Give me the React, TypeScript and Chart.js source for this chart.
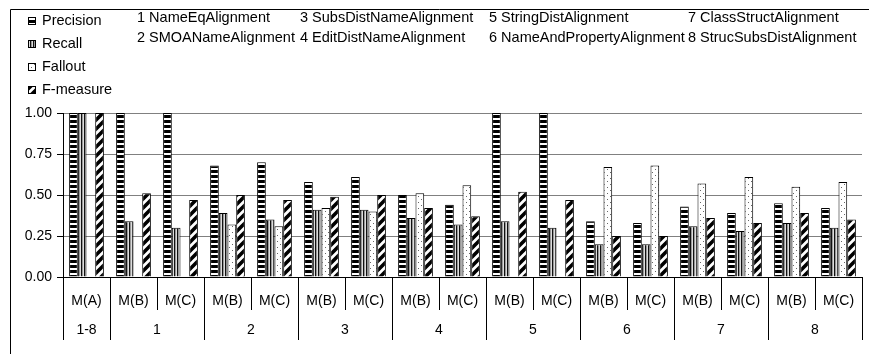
import React, { useEffect, useRef } from "react";
import Chart from "chart.js/auto";

const categories = ["M(A)", "M(B)", "M(C)", "M(B)", "M(C)", "M(B)", "M(C)", "M(B)", "M(C)", "M(B)", "M(C)", "M(B)", "M(C)", "M(B)", "M(C)", "M(B)", "M(C)"];
const groupLabels = ["1-8", "1", "2", "3", "4", "5", "6", "7", "8"];
const groupSpans = [1, 2, 2, 2, 2, 2, 2, 2, 2];
const seriesNames = ["Precision", "Recall", "Fallout", "F-measure"];
const precision = [1.0, 1.0, 1.0, 0.68, 0.70, 0.58, 0.61, 0.50, 0.44, 1.0, 1.0, 0.34, 0.33, 0.43, 0.39, 0.45, 0.42];
const recall = [1.0, 0.34, 0.30, 0.39, 0.35, 0.41, 0.41, 0.36, 0.32, 0.34, 0.30, 0.20, 0.20, 0.31, 0.28, 0.33, 0.30];
const fallout = [0, 0, 0, 0.32, 0.31, 0.42, 0.40, 0.51, 0.56, 0, 0, 0.67, 0.68, 0.57, 0.61, 0.55, 0.58];
const fmeasure = [1.0, 0.51, 0.47, 0.50, 0.47, 0.49, 0.50, 0.42, 0.37, 0.52, 0.47, 0.25, 0.25, 0.36, 0.33, 0.39, 0.35];
const methodNames = ["NameEqAlignment", "SMOANameAlignment", "SubsDistNameAlignment", "EditDistNameAlignment", "StringDistAlignment", "NameAndPropertyAlignment", "ClassStructAlignment", "StrucSubsDistAlignment"];
const yTicks = [0, 0.25, 0.5, 0.75, 1.0];

const FONT = '"Liberation Sans", Arial, sans-serif';

function makePattern(kind: string): CanvasPattern | string {
  const c = document.createElement("canvas");
  const g = c.getContext("2d")!;
  if (kind === "h") {
    c.width = 4; c.height = 5;
    g.fillStyle = "#fff"; g.fillRect(0, 0, 4, 5);
    g.fillStyle = "#000"; g.fillRect(0, 0, 4, 3);
  } else if (kind === "v") {
    c.width = 3; c.height = 3;
    g.fillStyle = "#999"; g.fillRect(0, 0, 3, 3);
    g.fillStyle = "#111"; g.fillRect(0, 0, 1, 3);
    g.fillStyle = "#ddd"; g.fillRect(2, 0, 1, 3);
  } else if (kind === "d") {
    c.width = 6; c.height = 6;
    g.fillStyle = "#fff"; g.fillRect(0, 0, 6, 6);
    g.fillStyle = "#666";
    g.fillRect(1, 1, 1, 1);
    g.fillRect(4, 4, 1, 1);
  } else {
    const s = 9;
    c.width = s; c.height = s;
    g.fillStyle = "#fff"; g.fillRect(0, 0, s, s);
    g.strokeStyle = "#000"; g.lineWidth = 3.6;
    g.beginPath();
    g.moveTo(-s, 2 * s); g.lineTo(2 * s, -s);
    g.moveTo(-2 * s, 2 * s); g.lineTo(s, -s);
    g.moveTo(0, 2 * s); g.lineTo(3 * s, -s);
    g.stroke();
  }
  return g.createPattern(c, "repeat") || "#888";
}

const methodColX = [137, 300, 489, 688];

const decorPlugin = {
  id: "decor",
  afterDraw(chart: any) {
    const { ctx, chartArea, scales } = chart;
    const xs = scales.x;
    const n = categories.length;
    const w = (chartArea.right - chartArea.left) / n;
    const bottom = chartArea.bottom;
    ctx.save();
    ctx.strokeStyle = "#000";
    ctx.lineWidth = 1;
    ctx.beginPath();
    ctx.moveTo(10.5, 354); ctx.lineTo(10.5, 9.5); ctx.lineTo(869, 9.5);
    ctx.stroke();
    ctx.beginPath();
    ctx.moveTo(chartArea.left, bottom + 0.5); ctx.lineTo(chartArea.right, bottom + 0.5);
    ctx.stroke();
    ctx.font = "14px " + FONT;
    ctx.fillStyle = "#000";
    ctx.textAlign = "center";
    ctx.textBaseline = "middle";
    for (let i = 0; i < n; i++) {
      const cx = xs.getPixelForValue(i);
      ctx.fillText(categories[i], cx, bottom + 24);
      const bx = Math.round(cx + w / 2) + 0.5;
      ctx.beginPath(); ctx.moveTo(bx, bottom); ctx.lineTo(bx, bottom + 33); ctx.stroke();
    }
    let start = 0;
    const lx = Math.round(chartArea.left) + 0.5;
    ctx.beginPath(); ctx.moveTo(lx, bottom); ctx.lineTo(lx, bottom + 63); ctx.stroke();
    for (let gi = 0; gi < groupLabels.length; gi++) {
      const span = groupSpans[gi];
      const first = xs.getPixelForValue(start) - w / 2;
      const last = xs.getPixelForValue(start + span - 1) + w / 2;
      ctx.fillText(groupLabels[gi], (first + last) / 2, bottom + 53);
      const bx = Math.round(last) + 0.5;
      ctx.beginPath(); ctx.moveTo(bx, bottom); ctx.lineTo(bx, bottom + 63); ctx.stroke();
      start += span;
    }
    ctx.font = "14.5px " + FONT;
    ctx.textAlign = "left";
    const rowsY = [21, 44, 67, 90];
    chart.data.datasets.forEach((ds: any, i: number) => {
      const y = rowsY[i];
      ctx.fillStyle = ds.backgroundColor;
      ctx.fillRect(28, y - 4, 8, 8);
      ctx.strokeStyle = "#000";
      ctx.strokeRect(28.5, y - 3.5, 7, 7);
      ctx.fillStyle = "#000";
      ctx.fillText(ds.label, 42, y);
    });
    methodNames.forEach((m, i) => {
      const col = Math.floor(i / 2);
      const row = i % 2;
      ctx.fillText((i + 1) + " " + m, methodColX[col], row === 0 ? 18 : 38);
    });
    ctx.restore();
  },
};

export default function App() {
  const ref = useRef<HTMLCanvasElement>(null);
  useEffect(() => {
    document.body.style.margin = "0";
    const patterns = [makePattern("h"), makePattern("v"), makePattern("d"), makePattern("s")];
    const values = [precision, recall, fallout, fmeasure];
    const chart = new Chart(ref.current!, {
      type: "bar",
      data: {
        labels: categories,
        datasets: seriesNames.map((name, i) => ({
          label: name,
          data: values[i],
          backgroundColor: patterns[i] as any,
          borderColor: "#000",
          borderWidth: 1,
          categoryPercentage: 0.74,
          barPercentage: 1.0,
        })),
      },
      options: {
        responsive: false,
        animation: false,
        layout: { padding: { left: 0, top: 113, right: 7, bottom: 77 } },
        plugins: { legend: { display: false }, tooltip: { enabled: false } },
        scales: {
          x: { display: false },
          y: {
            min: 0,
            max: 1,
            afterFit: (s: any) => { s.width = 63; },
            afterBuildTicks: (s: any) => { s.ticks = yTicks.map((v) => ({ value: v })); },
            ticks: {
              font: { size: 14, family: FONT },
              color: "#000",
              padding: 5,
              callback: (v: any) => Number(v).toFixed(2),
            },
            grid: {
              color: (c: any) => (c.tick && c.tick.value === 0 ? "#000" : "#808080"),
              tickColor: "#000",
              tickLength: 6,
            },
            border: { color: "#000", width: 1 },
          },
        },
      },
      plugins: [decorPlugin],
    });
    return () => chart.destroy();
  }, []);
  return <canvas ref={ref} width={869} height={354} style={{ display: "block" }} />;
}
